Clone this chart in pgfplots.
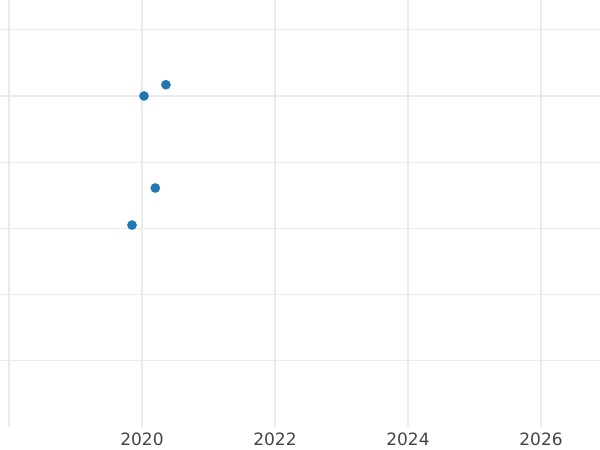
\documentclass[border=0pt]{standalone}
\usepackage{fontspec}
\setmainfont{DejaVu Sans}
\usepackage{pgfplots}
\pgfplotsset{compat=1.18}
\definecolor{gridc}{HTML}{EBEBEB}
\definecolor{ptc}{HTML}{1F77B4}
\definecolor{txt}{HTML}{444444}
\begin{document}
\begin{tikzpicture}[x=1pt,y=1pt]
\path[use as bounding box] (0,-23) rectangle (600,427);
\begin{axis}[
  at={(0,0)}, anchor=south west,
  scale only axis, width=600pt, height=427pt,
  xmin=2017.865, xmax=2026.887,
  ymin=0, ymax=6.45,
  axis line style={draw=none},
  major tick length=0pt,
  xtick={2018,2020,2022,2024,2026},
  xticklabels={,2020,2022,2024,2026},
  ytick={1,2,3,4,5,6},
  yticklabels={},
  grid=major,
  major grid style={gridc, line width=1.3pt},
  tick label style={font=\fontsize{17}{19}\selectfont, text=txt},
  /pgf/number format/assume math mode=true,
  xticklabel style={yshift=-2.5pt},
  clip=false,
]
\addplot[only marks, mark=*, mark size=4.6pt, color=ptc, mark options={draw=ptc, fill=ptc}] coordinates {
  (2020.03,5.00)
  (2020.36,5.17)
  (2020.20,3.61)
  (2019.85,3.05)
};
\end{axis}
\end{tikzpicture}
\end{document}
